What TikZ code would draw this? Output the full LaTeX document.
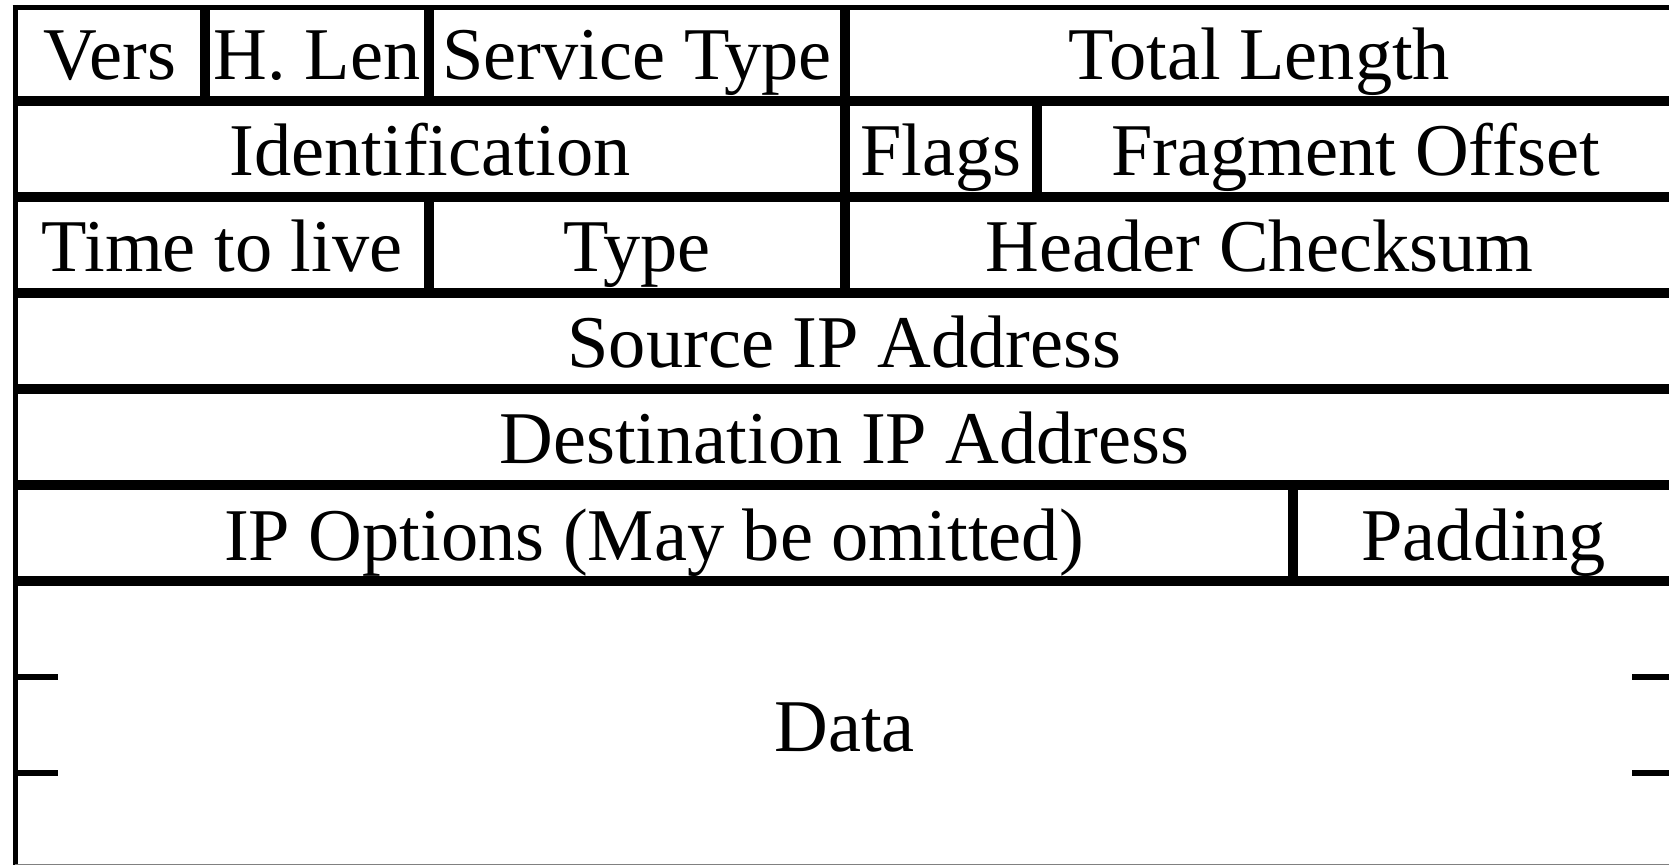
\documentclass[tikz,border=0pt]{standalone}
\usepackage{fontspec}
\setmainfont{Liberation Serif}
\begin{document}
\begin{tikzpicture}[x=0.5pt,y=-0.5pt,
  rule/.style={line width=4.75pt},
  edge/.style={line width=2.5pt},
  tick/.style={line width=3pt},
  field/.style={anchor=base,inner sep=0pt,font=\fontsize{37.2}{44}\selectfont}]
\useasboundingbox (0,0) rectangle (1669,865);
\clip (0,0) rectangle (1669,865);

% outer frame (top and left)
\draw[edge] (12.5,7.5) -- (1680,7.5);
\draw[edge] (15,5) -- (15,870);

% row separators
\foreach \y in {101,197,293,389,485,581}
  \draw[rule] (15,\y) -- (1680,\y);

% field dividers
\draw[rule] (205,7.5) -- (205,101);
\draw[rule] (429,7.5) -- (429,101);
\draw[rule] (845,7.5) -- (845,101);
\draw[rule] (845,101) -- (845,197);
\draw[rule] (1037,101) -- (1037,197);
\draw[rule] (429,197) -- (429,293);
\draw[rule] (845,197) -- (845,293);
\draw[rule] (1293,485) -- (1293,581);

% break marks of the data area
\draw[tick] (15,677) -- (58,677);
\draw[tick] (15,773) -- (58,773);
\draw[tick] (1632,677) -- (1680,677);
\draw[tick] (1632,773) -- (1680,773);
\draw[line width=0.6pt,gray] (15,864.5) -- (1680,864.5);

% field labels
\node[field] (vers)  at (110,80)   {Vers};
\node[field] (hlen)  at (317,80)   {H. Len};
\node[field] (tos)   at (637,80)   {Service Type};
\node[field] (tlen)  at (1259.5,80) {Total Length};
\node[field] (ident) at (430,176)  {Identification};
\node[field] (flags) at (941,176)  {Flags};
\node[field] (frag)  at (1355.5,176) {Fragment Offset};
\node[field] (ttl)   at (222,272)  {Time to live};
\node[field] (type)  at (637,272)  {Type};
\node[field] (csum)  at (1259.5,272) {Header Checksum};
\node[field] (src)   at (844.5,368) {Source IP Address};
\node[field] (dst)   at (844.5,464) {Destination IP Address};
\node[field] (opts)  at (654,560)  {IP Options (May be omitted)};
\node[field] (pad)   at (1483.5,560) {Padding};
\node[field] (data)  at (844.5,751) {Data};
\end{tikzpicture}
\end{document}
